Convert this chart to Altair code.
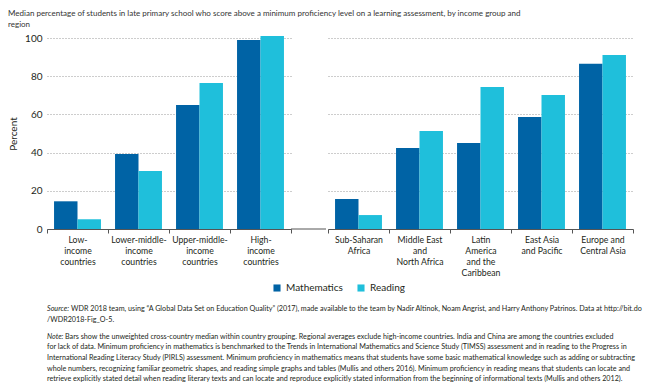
import altair as alt
import pandas as pd

# ---------------- data ----------------
series = ["Mathematics", "Reading"]
income_groups = ["Low-|income|countries", "Lower-middle-|income|countries",
                 "Upper-middle-|income|countries", "High-|income|countries"]
income_math = [14.5, 39.3, 64.9, 99.0]
income_read = [5.1, 30.4, 76.4, 101.0]

regions = ["Sub-Saharan|Africa", "Middle East|and|North Africa",
           "Latin|America|and the|Caribbean", "East Asia|and Pacific",
           "Europe and|Central Asia"]
region_math = [15.7, 42.4, 45.0, 58.6, 86.5]
region_read = [7.3, 51.3, 74.3, 70.2, 91.1]

y_ticks = [0, 20, 40, 60, 80, 100]

title_lines = ["Median percentage of students in late primary school who score above a minimum proficiency level on a learning assessment, by income group and",
               "region"]

note_prefix = ["Source:", "", "Note:", "", "", "", ""]
note_text = [
    "WDR 2018 team, using \u201cA Global Data Set on Education Quality\u201d (2017), made available to the team by Nadir Altinok, Noam Angrist, and Harry Anthony Patrinos. Data at http://bit.do",
    "/WDR2018-Fig_O-5.",
    "Bars show the unweighted cross-country median within country grouping. Regional averages exclude high-income countries. India and China are among the countries excluded",
    "for lack of data. Minimum proficiency in mathematics is benchmarked to the Trends in International Mathematics and Science Study (TIMSS) assessment and in reading to the Progress in",
    "International Reading Literacy Study (PIRLS) assessment. Minimum proficiency in mathematics means that students have some basic mathematical knowledge such as adding or subtracting",
    "whole numbers, recognizing familiar geometric shapes, and reading simple graphs and tables (Mullis and others 2016). Minimum proficiency in reading means that students can locate and",
    "retrieve explicitly stated detail when reading literary texts and can locate and reproduce explicitly stated information from the beginning of informational texts (Mullis and others 2012).",
]

# ---------------- styles ----------------
colors = ["#0063A5", "#1FBFDB"]
text_col = "#231F20"
axis_col = "#555555"
chart_font = "Lato"
note_font = "Lato"
step = 61
gap = 35
plot_h = 191

def make_df(cats, m, r):
    rows = []
    for c, a, b in zip(cats, m, r):
        rows.append({"cat": c, "series": series[0], "value": a})
        rows.append({"cat": c, "series": series[1], "value": b})
    return pd.DataFrame(rows)


def panel(cats, m, r, width, show_y):
    df = make_df(cats, m, r)
    if show_y:
        yaxis = alt.Axis(values=y_ticks, title="Percent", grid=True, gridDash=[1, 2],
                         gridColor="#9a9a9a", domain=False, ticks=False, labelPadding=5,
                         labelFont=chart_font, labelFontSize=10, labelColor=text_col,
                         titleFont=chart_font, titleFontSize=10, titleFontWeight="normal",
                         titleColor=text_col, titleX=-29, titleY=plot_h / 2)
    else:
        yaxis = alt.Axis(values=y_ticks, title=None, grid=True, gridDash=[1, 2],
                         gridColor="#9a9a9a", domain=False, ticks=False, labels=False)
    n = len(cats)
    bars = alt.Chart(df).mark_bar(clip=False).encode(
        x=alt.X("cat:N", sort=cats,
                scale=alt.Scale(domain=cats, range=[0, n * step], paddingInner=0, paddingOuter=0),
                axis=alt.Axis(title=None, labelExpr="split(datum.label, '|')", labelAngle=0,
                              tickBand="extent", tickSize=4, tickColor=axis_col,
                              domainColor=axis_col, labelPadding=2, labelFont=chart_font,
                              labelFontSize=8.7, labelColor=text_col, labelLineHeight=11,
                              grid=False)),
        xOffset=alt.XOffset("series:N", sort=series,
                            scale=alt.Scale(domain=series, paddingOuter=0.3, paddingInner=0)),
        y=alt.Y("value:Q", scale=alt.Scale(domain=[0, 100], nice=False), axis=yaxis),
        color=alt.Color("series:N", sort=series, scale=alt.Scale(domain=series, range=colors),
                        legend=alt.Legend(title=None, orient="none", direction="horizontal",
                                          legendX=225, legendY=245, symbolType="square",
                                          symbolSize=50, symbolStrokeWidth=0, labelFont=chart_font,
                                          labelFontSize=10, labelColor=text_col,
                                          columnPadding=13, labelOffset=4)),
    )
    return bars.properties(width=width, height=plot_h)


left = panel(income_groups, income_math, income_read, 4 * step + gap, True)
axis_fill = alt.Chart(pd.DataFrame({"k": [0]})).mark_rule(color=axis_col).encode(
    x=alt.value(4 * step), x2=alt.value(4 * step + gap), y=alt.value(plot_h))
left = alt.layer(left, axis_fill)
right = panel(regions, region_math, region_read, 5 * step, False)

top = alt.hconcat(left, right, spacing=0)

notes_df = pd.DataFrame({"prefix": note_prefix, "text": note_text, "row": list(range(len(note_text)))})
nbase = alt.Chart(notes_df).transform_calculate(
    ypos="datum.row * 10.6 + (datum.row >= 2 ? 6.5 : 0)")
common = dict(align="left", baseline="middle", font=note_font, fontSize=7.2, color=text_col)
pref = nbase.transform_filter("datum.prefix != ''").mark_text(fontStyle="italic", **common).encode(
    text="prefix:N", x=alt.value(0), y=alt.Y("ypos:Q", scale=None))
first_src = nbase.transform_filter("datum.row == 0").mark_text(dx=24, **common).encode(
    text="text:N", x=alt.value(0), y=alt.Y("ypos:Q", scale=None))
first_note = nbase.transform_filter("datum.row == 2").mark_text(dx=18, **common).encode(
    text="text:N", x=alt.value(0), y=alt.Y("ypos:Q", scale=None))
rest = nbase.transform_filter("datum.row != 0 && datum.row != 2").mark_text(**common).encode(
    text="text:N", x=alt.value(0), y=alt.Y("ypos:Q", scale=None))
notes = alt.layer(pref, first_src, first_note, rest).properties(width=600, height=70)

chart = alt.vconcat(top, notes, spacing=28).properties(
    title=alt.TitleParams(title_lines, anchor="start", font=chart_font, fontSize=8.0,
                          fontWeight="normal", color="#333333", lineHeight=11, offset=4),
    padding={"top": 2, "left": 0, "right": 0, "bottom": 0},
).configure_view(stroke=None)

chart.save("out.html", embed_options={"renderer": "svg", "actions": False})
